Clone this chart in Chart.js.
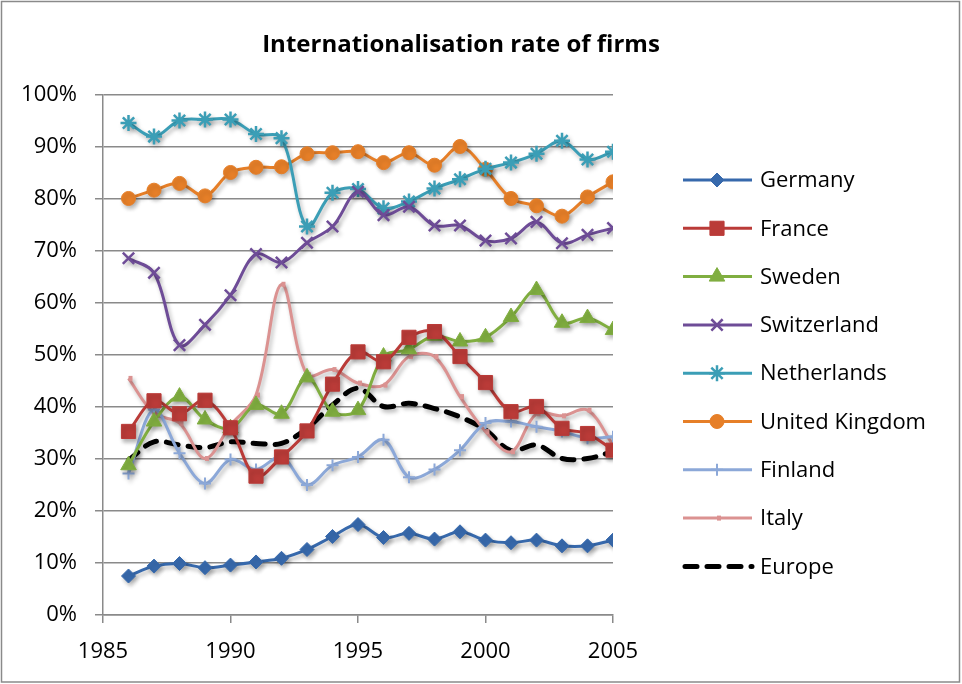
<!DOCTYPE html>
<html>
<head>
<meta charset="utf-8">
<script src="https://cdn.jsdelivr.net/npm/chart.js@4/dist/chart.umd.min.js"></script>
<style>
  html, body { margin: 0; padding: 0; background: #fff; }
  #wrap { width: 962px; height: 684px; }
</style>
</head>
<body>
<div id="wrap"><canvas id="chart" width="962" height="684"></canvas></div>
<script>
const years = [1986, 1987, 1988, 1989, 1990, 1991, 1992, 1993, 1994, 1995,
               1996, 1997, 1998, 1999, 2000, 2001, 2002, 2003, 2004, 2005]

const germany     = [7.5, 9.4, 9.9, 9.1, 9.6, 10.2, 10.9, 12.6, 15.1, 17.4, 14.9, 15.7, 14.6, 16.0, 14.4, 13.9, 14.4, 13.3, 13.3, 14.4]
const france      = [35.3, 41.2, 38.7, 41.3, 36.0, 26.7, 30.4, 35.4, 44.4, 50.6, 48.7, 53.4, 54.5, 49.7, 44.7, 39.1, 40.1, 35.9, 34.9, 31.7]
const sweden      = [28.8, 37.2, 42.0, 37.6, 35.9, 40.4, 38.7, 45.7, 39.1, 39.4, 49.7, 51.1, 53.7, 52.6, 53.4, 57.3, 62.5, 56.2, 57.1, 54.8]
const switzerland = [68.6, 65.8, 51.9, 55.8, 61.5, 69.4, 67.8, 71.6, 74.7, 81.4, 76.9, 78.5, 74.9, 74.9, 72.0, 72.4, 75.6, 71.5, 73.1, 74.4]
const netherlands = [94.6, 92.0, 95.1, 95.3, 95.3, 92.5, 91.7, 74.7, 81.2, 81.9, 78.2, 79.5, 82.0, 83.8, 85.8, 87.0, 88.7, 91.2, 87.6, 89.1]
const uk          = [80.1, 81.7, 83.0, 80.6, 85.1, 86.1, 86.2, 88.7, 88.9, 89.1, 87.0, 88.9, 86.5, 90.1, 85.7, 80.1, 78.7, 76.7, 80.4, 83.3]
const finland     = [27.2, 39.5, 31.1, 25.3, 29.9, 28.0, 30.4, 25.0, 28.8, 30.4, 33.7, 26.5, 28.0, 31.7, 36.9, 37.2, 36.2, 35.3, 34.0, 34.3]
const italy       = [45.5, 38.8, 36.9, 30.1, 36.5, 42.3, 63.6, 46.2, 47.2, 44.6, 44.2, 49.7, 49.7, 42.0, 35.3, 31.4, 38.7, 38.3, 39.4, 32.7]
const europe      = [29.8, 33.3, 32.7, 32.2, 33.3, 33.0, 33.0, 35.9, 40.4, 43.6, 40.1, 40.7, 39.7, 38.1, 35.6, 31.6, 32.7, 30.1, 30.1, 31.4]

const xTicks = [1985, 1990, 1995, 2000, 2005]
const titleText = 'Internationalisation rate of firms'

const FONT = '"Open Sans", "Liberation Sans", sans-serif'

function toPoints(values) {
    return values.map((v, i) => ({ x: years[i], y: v }))
}

function series(label, values, color, style, radius, extra) {
    return Object.assign({
        label: label,
        data: toPoints(values),
        borderColor: color,
        backgroundColor: color,
        borderWidth: 3,
        pointStyle: style,
        pointRadius: radius,
        pointBorderWidth: 1,
        pointBorderColor: color,
        pointBackgroundColor: color,
        tension: 0.35,
        fill: false
    }, extra || {})
}

const datasets = [
    series('Germany', germany, '#3769AC', 'rectRot', 7),
    series('France', france, '#BA3B38', 'rect', 10),
    series('Sweden', sweden, '#80AE40', 'triangle', 9),
    series('Switzerland', switzerland, '#6E4C97', 'crossRot', 8, { pointBorderWidth: 2.5 }),
    series('Netherlands', netherlands, '#3B9EB6', 'star', 8, { pointBorderWidth: 2.5 }),
    series('United Kingdom', uk, '#E67F28', 'circle', 7),
    series('Finland', finland, '#8CA8D8', 'cross', 6, { pointBorderWidth: 2 }),
    series('Italy', italy, '#DB9291', 'dash', 4, { pointBorderWidth: 5 }),
    series('Europe', europe, '#000000', false, 0, { borderWidth: 5, borderDash: [12, 10], borderCapStyle: 'round' })
]

// drop shadow like the office chart style
const shadowPlugin = {
    id: 'shadow',
    beforeDatasetsDraw(chart) {
        const ctx = chart.ctx
        ctx.save()
        ctx.shadowColor = 'rgba(0,0,0,0.28)'
        ctx.shadowBlur = 4
        ctx.shadowOffsetX = 2
        ctx.shadowOffsetY = 3
    },
    afterDatasetsDraw(chart) {
        chart.ctx.restore()
    }
}

// frame, title and legend (legend sits to the right of the plot)
const sidePlugin = {
    id: 'side',
    beforeDraw(chart) {
        const ctx = chart.ctx
        ctx.save()
        ctx.strokeStyle = '#8a8a8a'
        ctx.lineWidth = 1.5
        ctx.strokeRect(1.5, 1.5, chart.width - 4, chart.height - 3.5)
        ctx.fillStyle = '#000'
        ctx.font = 'bold 24px ' + FONT
        ctx.textAlign = 'center'
        ctx.textBaseline = 'middle'
        ctx.fillText(titleText, 461, 45)
        ctx.restore()
    },
    afterDraw(chart) {
        const ctx = chart.ctx
        ctx.save()
        chart.data.datasets.forEach((ds, i) => {
            const y = 180 + i * 48.3
            ctx.save()
            ctx.strokeStyle = ds.borderColor
            ctx.lineWidth = ds.borderWidth
            ctx.lineCap = ds.borderCapStyle || 'butt'
            ctx.setLineDash(ds.borderDash || [])
            ctx.beginPath()
            if (ds.borderDash) {
                ctx.moveTo(685, y)
                ctx.lineTo(752, y)
            } else {
                ctx.moveTo(683, y)
                ctx.lineTo(752, y)
            }
            ctx.stroke()
            ctx.restore()
            if (ds.pointStyle) {
                ctx.save()
                ctx.strokeStyle = ds.pointBorderColor
                ctx.fillStyle = ds.pointBackgroundColor
                ctx.lineWidth = ds.pointBorderWidth
                Chart.helpers.drawPoint(ctx, {
                    pointStyle: ds.pointStyle,
                    radius: ds.pointRadius,
                    rotation: 0,
                    borderWidth: ds.pointBorderWidth
                }, 717, y)
                ctx.restore()
            }
            ctx.fillStyle = '#000'
            ctx.font = '22px ' + FONT
            ctx.textBaseline = 'middle'
            ctx.textAlign = 'left'
            ctx.fillText(ds.label, 760, y + 1)
        })
        ctx.restore()
    }
}

const chart = new Chart(document.getElementById('chart'), {
    type: 'line',
    data: { datasets: datasets },
    plugins: [shadowPlugin, sidePlugin],
    options: {
        responsive: false,
        animation: false,
        layout: { padding: { top: 95, left: 0, right: 349, bottom: 0 } },
        plugins: {
            legend: { display: false },
            tooltip: { enabled: false },
            title: { display: false }
        },
        scales: {
            x: {
                type: 'linear',
                min: 1985,
                max: 2005,
                afterBuildTicks(scale) {
                    scale.ticks = xTicks.map(v => ({ value: v }))
                },
                afterFit(scale) { scale.height = 69 },
                grid: { drawOnChartArea: false, drawTicks: true, tickLength: 8, color: '#8a8a8a', lineWidth: 1.5 },
                border: { display: true, color: '#8a8a8a', width: 1.5 },
                ticks: {
                    color: '#000',
                    padding: 16,
                    maxRotation: 0,
                    font: { family: FONT, size: 22 },
                    callback: v => String(v)
                }
            },
            y: {
                min: 0,
                max: 100,
                afterFit(scale) { scale.width = 103 },
                grid: { color: '#8a8a8a', lineWidth: 1.5, tickLength: 8 },
                border: { display: true, color: '#8a8a8a', width: 1.5 },
                ticks: {
                    stepSize: 10,
                    color: '#000',
                    padding: 18,
                    font: { family: FONT, size: 22 },
                    callback: v => v + '%'
                }
            }
        }
    }
})
</script>
</body>
</html>
